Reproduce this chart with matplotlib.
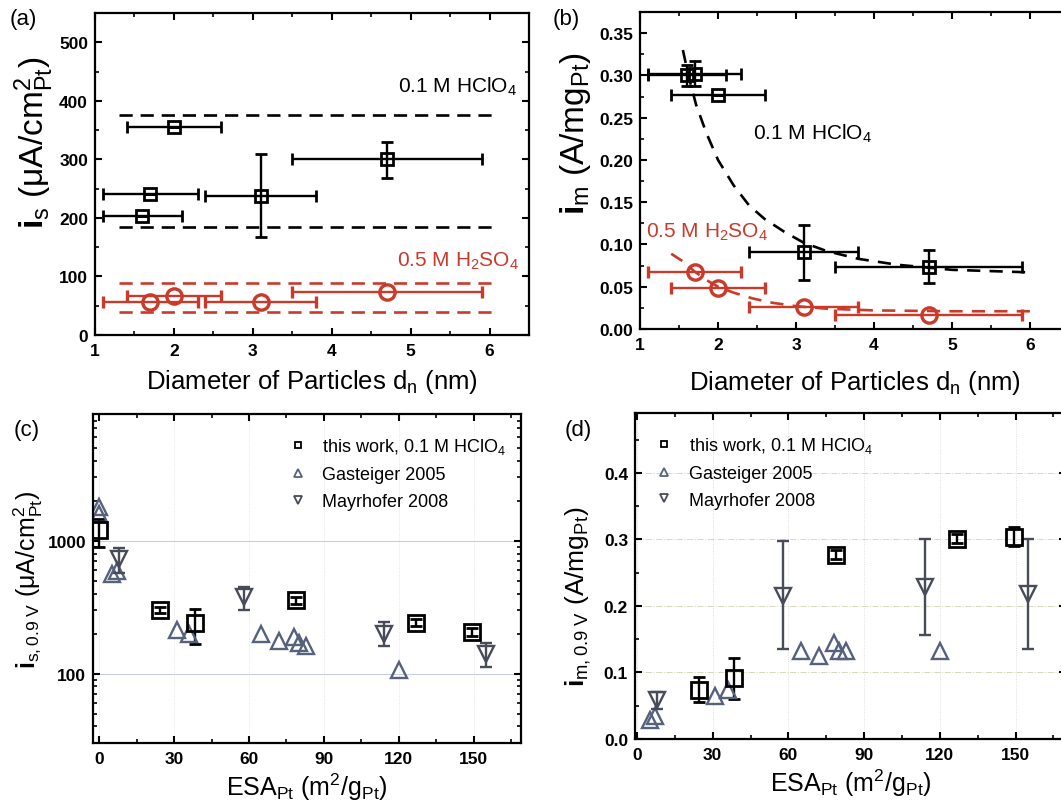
import numpy as np
import matplotlib.pyplot as plt
from matplotlib.ticker import MultipleLocator, FixedLocator, LogLocator, NullFormatter, ScalarFormatter

plt.rcParams.update({
    'font.family': 'Liberation Sans',
    'mathtext.fontset': 'custom',
    'mathtext.rm': 'Liberation Sans',
    'mathtext.it': 'Liberation Sans:italic',
    'mathtext.bf': 'Liberation Sans:bold',
    'axes.linewidth': 1.6,
    'xtick.direction': 'in',
    'ytick.direction': 'in',
    'xtick.top': True,
    'ytick.right': True,
    'xtick.major.size': 5,
    'ytick.major.size': 5,
    'xtick.minor.size': 3,
    'ytick.minor.size': 3,
    'xtick.major.width': 1.5,
    'ytick.major.width': 1.5,
    'xtick.minor.width': 1.2,
    'ytick.minor.width': 1.2,
    'xtick.major.pad': 6,
    'ytick.major.pad': 5,
})

W, H = 1061, 803
RED = '#c93a2b'
BLUEGRAY = '#56617c'
DGRAY = '#474c58'

# === DATA ===
# (a) specific activity vs particle size
a_sq_d = [1.6, 1.7, 2.0, 3.1, 4.7]
a_sq_i = [204, 240, 355, 238, 300]
a_sq_dlo = [1.1, 1.1, 1.4, 2.4, 3.5]
a_sq_dhi = [2.1, 2.3, 2.6, 3.8, 5.9]
a_sq_ilo = [204, 240, 355, 168, 268]
a_sq_ihi = [204, 240, 355, 310, 330]
a_ci_d = [1.7, 2.0, 3.1, 4.7]
a_ci_i = [57, 66, 57, 73]
a_ci_dlo = [1.1, 1.4, 2.4, 3.5]
a_ci_dhi = [2.3, 2.6, 3.8, 5.9]
a_band_hclo4 = [375, 185]
a_band_h2so4 = [88, 40]
a_band_x = [1.3, 6.1]

# (b) mass activity vs particle size
b_sq_d = [1.6, 1.7, 2.0, 3.1, 4.7]
b_sq_i = [0.300, 0.302, 0.277, 0.091, 0.0735]
b_sq_dlo = [1.1, 1.1, 1.4, 2.4, 3.5]
b_sq_dhi = [2.1, 2.3, 2.6, 3.8, 5.9]
b_sq_ilo = [0.288, 0.287, 0.277, 0.058, 0.054]
b_sq_ihi = [0.312, 0.317, 0.277, 0.123, 0.094]
b_ci_d = [1.7, 2.0, 3.1, 4.7]
b_ci_i = [0.067, 0.048, 0.026, 0.017]
b_ci_dlo = [1.1, 1.4, 2.4, 3.5]
b_ci_dhi = [2.3, 2.6, 3.8, 5.9]
b_fit_hclo4_d = [1.55, 1.62, 1.72, 1.85, 2.0, 2.2, 2.4, 2.6, 2.85, 3.1, 3.4, 3.8, 4.3, 5.0, 6.0]
b_fit_hclo4_i = [0.330, 0.300, 0.265, 0.232, 0.200, 0.170, 0.146, 0.130, 0.115, 0.102, 0.092, 0.083, 0.076, 0.070, 0.067]
b_fit_h2so4_d = [1.4, 1.55, 1.7, 1.85, 2.0, 2.2, 2.45, 2.7, 3.0, 3.4, 4.0, 5.0, 6.0]
b_fit_h2so4_i = [0.089, 0.080, 0.068, 0.058, 0.050, 0.043, 0.036, 0.031, 0.027, 0.024, 0.022, 0.021, 0.021]

# (c) specific activity vs ESA
c_tw_esa = [0, 24.5, 38.5, 79, 127, 149.5]
c_tw_i = [1200, 300, 240, 355, 242, 207]
c_tw_lo = [900, 285, 168, 335, 228, 193]
c_tw_hi = [1450, 315, 305, 375, 256, 221]
c_gas_esa = [0, 0, 5, 7, 31, 36, 65, 72, 78, 80, 83, 120]
c_gas_i = [1800, 1600, 560, 590, 212, 200, 200, 175, 190, 170, 160, 107]
c_may_esa = [8, 58, 114, 155]
c_may_i = [730, 380, 200, 140]
c_may_lo = [570, 300, 160, 112]
c_may_hi = [880, 450, 245, 170]

# (d) mass activity vs ESA
d_tw_esa = [24.5, 38.5, 79, 127, 149.5]
d_tw_i = [0.073, 0.091, 0.277, 0.301, 0.304]
d_tw_lo = [0.055, 0.060, 0.270, 0.294, 0.290]
d_tw_hi = [0.093, 0.122, 0.284, 0.308, 0.318]
d_gas_esa = [5, 7, 31, 36, 65, 72, 78, 80, 83, 120]
d_gas_i = [0.028, 0.034, 0.065, 0.073, 0.133, 0.125, 0.145, 0.133, 0.133, 0.133]
d_may_esa = [8, 58, 114, 155]
d_may_i = [0.058, 0.215, 0.228, 0.218]
d_may_lo = [0.045, 0.135, 0.157, 0.135]
d_may_hi = [0.071, 0.297, 0.300, 0.300]

leg_labels = ['this work, 0.1 M HClO$_4$', 'Gasteiger 2005', 'Mayrhofer 2008']


def box(fig, l, t, r, b):
    return fig.add_axes([l / W, 1 - b / H, (r - l) / W, (b - t) / H])


def err(v, lo, hi):
    v = np.asarray(v, float)
    return [v - np.asarray(lo, float), np.asarray(hi, float) - v]


def style_ticks(ax):
    for lab in ax.get_xticklabels() + ax.get_yticklabels():
        lab.set_fontweight('bold')
        lab.set_fontsize(12.5)


EB = dict(ls='none', elinewidth=1.7, capsize=4, capthick=1.7)

fig = plt.figure(figsize=(W / 100, H / 100), dpi=100)

# === (a) ===
ax = box(fig, 95, 14, 529, 336)
ax.hlines(a_band_hclo4, *a_band_x, colors='k', lw=1.9, linestyles=(0, (5, 3)))
ax.hlines(a_band_h2so4, *a_band_x, colors=RED, lw=1.9, linestyles=(0, (5, 3)))
ax.errorbar(a_sq_d, a_sq_i, xerr=err(a_sq_d, a_sq_dlo, a_sq_dhi),
            yerr=err(a_sq_i, a_sq_ilo, a_sq_ihi), fmt='s', ms=9, mew=2,
            mfc='none', mec='k', color='k', **EB)
ax.errorbar(a_ci_d, a_ci_i, xerr=err(a_ci_d, a_ci_dlo, a_ci_dhi), fmt='o', ms=11, mew=2.4,
            mfc='none', mec=RED, color=RED, **EB)
ax.text(6.35, 425, '0.1 M HClO$_4$', ha='right', va='center', fontsize=15)
ax.text(6.38, 128, '0.5 M H$_2$SO$_4$', ha='right', va='center', fontsize=15, color=RED)
ax.set_xlim(1, 6.5)
ax.set_ylim(0, 550)
ax.xaxis.set_major_locator(MultipleLocator(1))
ax.xaxis.set_minor_locator(MultipleLocator(0.5))
ax.yaxis.set_major_locator(MultipleLocator(100))
ax.yaxis.set_minor_locator(MultipleLocator(50))
ax.set_xlabel('Diameter of Particles d$_\\mathrm{n}$ (nm)', fontsize=18.5, labelpad=6)
ax.set_ylabel('$\\mathbf{i}_\\mathrm{s}$ (μA/cm$^2_\\mathrm{Pt}$)', fontsize=24)
ax.yaxis.set_label_coords(-0.09, 0.6)
style_ticks(ax)
fig.text(10 / W, 1 - 19 / H, '(a)', fontsize=16, va='center')

# === (b) ===
ax = box(fig, 640, 13, 1069, 330)
ax.plot(b_fit_hclo4_d, b_fit_hclo4_i, color='k', lw=1.9, dashes=(5, 3.5))
ax.plot(b_fit_h2so4_d, b_fit_h2so4_i, color=RED, lw=1.9, dashes=(5, 3.5))
ax.errorbar(b_sq_d, b_sq_i, xerr=err(b_sq_d, b_sq_dlo, b_sq_dhi),
            yerr=err(b_sq_i, b_sq_ilo, b_sq_ihi), fmt='s', ms=9, mew=2,
            mfc='none', mec='k', color='k', **EB)
ax.errorbar(b_ci_d, b_ci_i, xerr=err(b_ci_d, b_ci_dlo, b_ci_dhi), fmt='o', ms=11, mew=2.4,
            mfc='none', mec=RED, color=RED, **EB)
ax.text(2.45, 0.232, '0.1 M HClO$_4$', ha='left', va='center', fontsize=15)
ax.text(1.08, 0.116, '0.5 M H$_2$SO$_4$', ha='left', va='center', fontsize=15, color=RED)
ax.set_xlim(1, 6.5)
ax.set_ylim(0, 0.375)
ax.xaxis.set_major_locator(MultipleLocator(1))
ax.xaxis.set_minor_locator(MultipleLocator(0.5))
ax.yaxis.set_major_locator(MultipleLocator(0.05))
ax.yaxis.set_minor_locator(MultipleLocator(0.025))
ax.yaxis.set_major_formatter(lambda v, p: f'{v:.2f}')
ax.set_xlabel('Diameter of Particles d$_\\mathrm{n}$ (nm)', fontsize=18.5, labelpad=11)
ax.set_ylabel('$\\mathbf{i}_\\mathrm{m}$ (A/mg$_\\mathrm{Pt}$)', fontsize=24)
ax.yaxis.set_label_coords(-0.11, 0.62)
style_ticks(ax)
fig.text(553 / W, 1 - 19 / H, '(b)', fontsize=16, va='center')

# === (c) ===
ax = box(fig, 93, 415, 521, 744)
ax.grid(True, axis='y', which='major', color='#c6cae6', lw=0.7)
ax.grid(True, axis='x', which='major', color='#dcdcdc', lw=0.6, ls=':')
ax.set_axisbelow(True)
ax.errorbar(c_tw_esa, c_tw_i, yerr=err(c_tw_i, c_tw_lo, c_tw_hi), fmt='s', ms=11, mew=2,
            mfc='none', mec='k', color='k', **EB)
ax.plot(c_gas_esa, c_gas_i, '^', ms=12, mfc='none', mec=BLUEGRAY, mew=1.7, ls='none')
ax.errorbar(c_may_esa, c_may_i, yerr=err(c_may_i, c_may_lo, c_may_hi), fmt='v', ms=12, mew=1.7,
            mfc='none', mec=DGRAY, color=DGRAY, **EB)
ax.set_yscale('log')
ax.set_xlim(-2.5, 169)
ax.set_ylim(30, 9000)
ax.xaxis.set_major_locator(MultipleLocator(30))
ax.xaxis.set_minor_locator(MultipleLocator(15))
ax.yaxis.set_major_locator(FixedLocator([100, 1000]))
ax.yaxis.set_major_formatter(ScalarFormatter())
ax.yaxis.set_minor_locator(LogLocator(base=10, subs=np.arange(2, 10)))
ax.yaxis.set_minor_formatter(NullFormatter())
ax.set_xlabel('ESA$_\\mathrm{Pt}$ (m$^2$/g$_\\mathrm{Pt}$)', fontsize=18, labelpad=3)
ax.set_ylabel('$\\mathbf{i}_\\mathrm{s,0.9\\ V}$ (μA/cm$^2_\\mathrm{Pt}$)', fontsize=18, labelpad=2)
style_ticks(ax)
hs = [plt.Line2D([], [], marker='s', ms=5, mfc='none', mec='k', mew=1.3, ls='none'),
      plt.Line2D([], [], marker='^', ms=6, mfc='none', mec=BLUEGRAY, mew=1.3, ls='none'),
      plt.Line2D([], [], marker='v', ms=6, mfc='none', mec=DGRAY, mew=1.3, ls='none')]
ax.legend(hs, leg_labels, loc='upper left', bbox_to_anchor=(0.43, 0.955), frameon=False,
          fontsize=13, handletextpad=0.6, handlelength=1.5, labelspacing=0.55, borderaxespad=0)
fig.text(14 / W, 1 - 431 / H, '(c)', fontsize=16, va='center')

# === (d) ===
ax = box(fig, 635, 414, 1066, 740)
ax.grid(True, axis='y', which='major', color='#d8d8c0', lw=0.7, ls='-.')
ax.grid(True, axis='x', which='major', color='#d4d4d4', lw=0.6, ls=':')
ax.set_axisbelow(True)
ax.errorbar(d_tw_esa, d_tw_i, yerr=err(d_tw_i, d_tw_lo, d_tw_hi), fmt='s', ms=11, mew=2,
            mfc='none', mec='k', color='k', **EB)
ax.plot(d_gas_esa, d_gas_i, '^', ms=12, mfc='none', mec=BLUEGRAY, mew=1.7, ls='none')
ax.errorbar(d_may_esa, d_may_i, yerr=err(d_may_i, d_may_lo, d_may_hi), fmt='v', ms=12, mew=1.7,
            mfc='none', mec=DGRAY, color=DGRAY, **EB)
ax.set_xlim(-0.8, 170)
ax.set_ylim(0, 0.49)
ax.xaxis.set_major_locator(MultipleLocator(30))
ax.xaxis.set_minor_locator(MultipleLocator(15))
ax.yaxis.set_major_locator(MultipleLocator(0.1))
ax.yaxis.set_minor_locator(MultipleLocator(0.05))
ax.yaxis.set_major_formatter(lambda v, p: f'{v:.1f}')
ax.set_xlabel('ESA$_\\mathrm{Pt}$ (m$^2$/g$_\\mathrm{Pt}$)', fontsize=18, labelpad=3)
ax.set_ylabel('$\\mathbf{i}_\\mathrm{m,0.9\\ V}$ (A/mg$_\\mathrm{Pt}$)', fontsize=19)
ax.yaxis.set_label_coords(-0.097, 0.44)
style_ticks(ax)
ax.legend(hs, leg_labels, loc='upper left', bbox_to_anchor=(0.02, 0.955), frameon=False,
          fontsize=13, handletextpad=0.6, handlelength=1.5, labelspacing=0.55, borderaxespad=0)
fig.text(565 / W, 1 - 431 / H, '(d)', fontsize=16, va='center')

fig.savefig('out.png', dpi=100)
